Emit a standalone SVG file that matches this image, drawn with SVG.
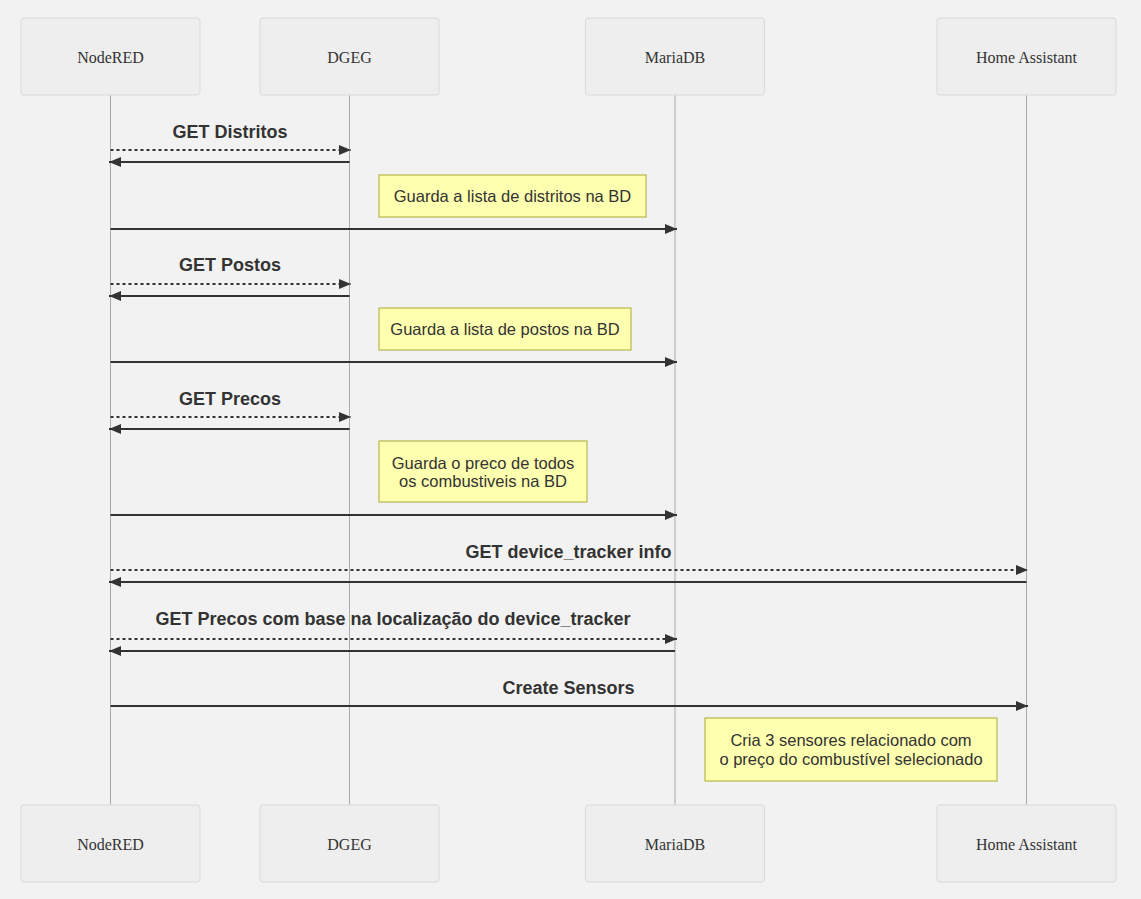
<svg xmlns="http://www.w3.org/2000/svg" width="1141" height="899" viewBox="0 0 1141 899">
<style>
.actor rect{fill:#eeeeee;stroke:#d9d9d9;stroke-width:1}
.actor text{font-family:"Liberation Serif",serif;font-size:16px;fill:#333;text-anchor:middle;dominant-baseline:central}
.life{stroke:#aaaaaa;stroke-width:1}
.msg{stroke:#333;stroke-width:2;fill:none}
.dash{stroke-dasharray:3,3}
.lbl{font-family:"Liberation Sans",Arial,sans-serif;font-size:18px;font-weight:bold;fill:#333;text-anchor:middle}
.note rect{fill:#ffffb0;stroke:#aaaa33;stroke-width:1}
.note text{font-family:"Liberation Sans",Arial,sans-serif;font-size:16.5px;fill:#333;text-anchor:middle}
</style>
<defs>
<marker id="ah" viewBox="0 0 12 10" refX="12" refY="5" markerWidth="12" markerHeight="10" markerUnits="userSpaceOnUse" orient="auto">
<path d="M0,0 L12,5 L0,10 Z" fill="#333"/>
</marker>
</defs>
<rect width="1141" height="899" fill="#f2f2f2"/>
<g id="lifelines">
<line class="life" x1="110.5" y1="95" x2="110.5" y2="805"/>
<line class="life" x1="349.5" y1="95" x2="349.5" y2="805"/>
<line class="life" x1="675" y1="95" x2="675" y2="805"/>
<line class="life" x1="1026.5" y1="95" x2="1026.5" y2="805"/>
</g>
<g id="actor-nodered-top" class="actor"><rect x="21" y="18" width="179" height="77" rx="3"/><text x="110.5" y="57">NodeRED</text></g>
<g id="actor-dgeg-top" class="actor"><rect x="260" y="18" width="179" height="77" rx="3"/><text x="349.5" y="57">DGEG</text></g>
<g id="actor-mariadb-top" class="actor"><rect x="585.5" y="18" width="179" height="77" rx="3"/><text x="675" y="57">MariaDB</text></g>
<g id="actor-ha-top" class="actor"><rect x="937" y="18" width="179" height="77" rx="3"/><text x="1026.5" y="57">Home Assistant</text></g>
<g id="actor-nodered-bottom" class="actor"><rect x="21" y="805" width="179" height="77" rx="3"/><text x="110.5" y="844">NodeRED</text></g>
<g id="actor-dgeg-bottom" class="actor"><rect x="260" y="805" width="179" height="77" rx="3"/><text x="349.5" y="844">DGEG</text></g>
<g id="actor-mariadb-bottom" class="actor"><rect x="585.5" y="805" width="179" height="77" rx="3"/><text x="675" y="844">MariaDB</text></g>
<g id="actor-ha-bottom" class="actor"><rect x="937" y="805" width="179" height="77" rx="3"/><text x="1026.5" y="844">Home Assistant</text></g>
<g id="note1" class="note"><rect x="379" y="175" width="267" height="42"/><text x="512.5" y="202">Guarda a lista de distritos na BD</text></g>
<g id="note2" class="note"><rect x="379" y="308" width="252" height="42"/><text x="505" y="335">Guarda a lista de postos na BD</text></g>
<g id="note3" class="note"><rect x="379" y="441" width="208" height="61"/><text x="483" y="469">Guarda o preco de todos</text><text x="483" y="487">os combustiveis na BD</text></g>
<g id="note4" class="note"><rect x="705" y="718" width="292" height="63"/><text x="851" y="746">Cria 3 sensores relacionado com</text><text x="851" y="765">o preço do combustível selecionado</text></g>
<g id="connectors">
<text class="lbl" x="230" y="138">GET Distritos</text>
<line class="msg dash" x1="110.5" y1="150" x2="351" y2="150" marker-end="url(#ah)"/>
<line class="msg" x1="349.5" y1="162" x2="109" y2="162" marker-end="url(#ah)"/>
<line class="msg" x1="110.5" y1="229" x2="677" y2="229" marker-end="url(#ah)"/>
<text class="lbl" x="230" y="271">GET Postos</text>
<line class="msg dash" x1="110.5" y1="284" x2="351" y2="284" marker-end="url(#ah)"/>
<line class="msg" x1="349.5" y1="296" x2="109" y2="296" marker-end="url(#ah)"/>
<line class="msg" x1="110.5" y1="362" x2="677" y2="362" marker-end="url(#ah)"/>
<text class="lbl" x="230" y="405">GET Precos</text>
<line class="msg dash" x1="110.5" y1="417" x2="351" y2="417" marker-end="url(#ah)"/>
<line class="msg" x1="349.5" y1="429" x2="109" y2="429" marker-end="url(#ah)"/>
<line class="msg" x1="110.5" y1="515" x2="677" y2="515" marker-end="url(#ah)"/>
<text class="lbl" x="568.5" y="558">GET device_tracker info</text>
<line class="msg dash" x1="110.5" y1="570" x2="1028" y2="570" marker-end="url(#ah)"/>
<line class="msg" x1="1026.5" y1="582" x2="109" y2="582" marker-end="url(#ah)"/>
<text class="lbl" x="393" y="625">GET Precos com base na localização do device_tracker</text>
<line class="msg dash" x1="110.5" y1="639" x2="677" y2="639" marker-end="url(#ah)"/>
<line class="msg" x1="675" y1="651" x2="109" y2="651" marker-end="url(#ah)"/>
<text class="lbl" x="568.5" y="694">Create Sensors</text>
<line class="msg" x1="110.5" y1="706" x2="1028" y2="706" marker-end="url(#ah)"/>
</g>
</svg>
